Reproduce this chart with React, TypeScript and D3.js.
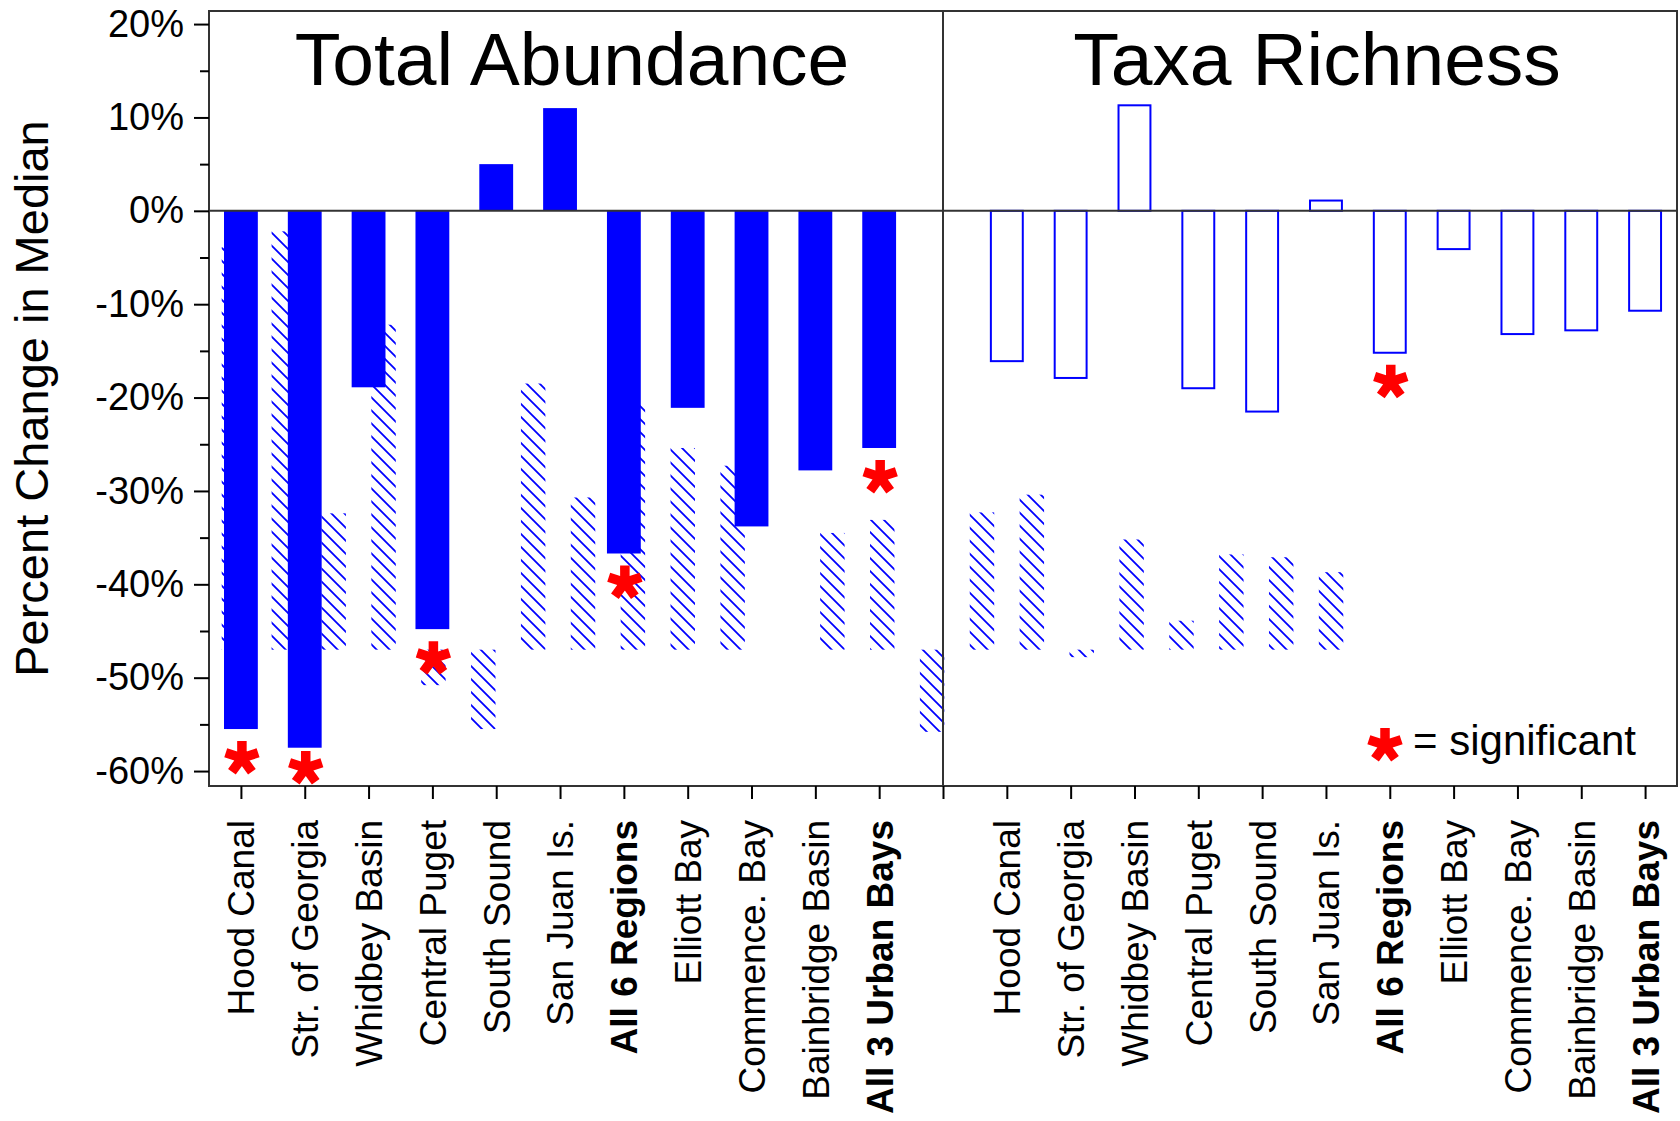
import { useRef, useEffect } from 'react'
import * as d3 from 'd3'

// categories (same list in both panels)
const regions = [
  'Hood Canal',
  'Str. of Georgia',
  'Whidbey Basin',
  'Central Puget',
  'South Sound',
  'San Juan Is.',
  'All 6 Regions',
  'Elliott Bay',
  'Commence. Bay',
  'Bainbridge Basin',
  'All 3 Urban Bays',
]
const boldLabels = ['All 6 Regions', 'All 3 Urban Bays']

// percent change in median
const abundance = [-55.5, -57.5, -18.9, -44.8, 5.0, 11.0, -36.7, -21.1, -33.8, -27.8, -25.4]
const richness = [-16.1, -17.9, 11.3, -19.0, -21.5, 1.1, -15.2, -4.1, -13.2, -12.8, -10.7]
const abundanceSig = [true, true, false, true, false, false, true, false, false, false, true]
const richnessSig = [false, false, false, false, false, false, true, false, false, false, false]

// hatched layer, one entry per slot (23 slots, slot 11 empty)
const hatchTop = [
  -3.9, -2.2, -32.4, -12.2, -47.0, -47.0, -18.5, -30.7, -20.8, -25.4, -27.3, null,
  -34.5, -33.1, -47.0, -32.3, -30.4, -47.0, -35.2, -43.9, -36.8, -37.1, -38.7,
]
const hatchBottom = [
  -47.0, -47.0, -47.0, -47.0, -50.8, -55.5, -47.0, -47.0, -47.0, -47.0, -47.0, null,
  -47.0, -47.0, -55.8, -47.0, -47.0, -47.8, -47.0, -47.0, -47.0, -47.0, -47.0,
]

const yTicks = [20, 10, 0, -10, -20, -30, -40, -50, -60]
const yMinorTicks = [15, 5, -5, -15, -25, -35, -45, -55]
const panelTitles = ['Total Abundance', 'Taxa Richness']

const FONT = '"Liberation Sans", Arial, Helvetica, sans-serif'
const BLUE = '#0000ff'
const RED = '#ff0000'

// five-armed asterisk marker
function starPath(len: number, w: number) {
  return d3
    .range(5)
    .map((k) => {
      const r = (k * 72 * Math.PI) / 180
      const dx = Math.sin(r)
      const dy = -Math.cos(r)
      const px = -dy * (w / 2)
      const py = dx * (w / 2)
      const pts = [
        [px, py],
        [px + dx * len, py + dy * len],
        [-px + dx * len, -py + dy * len],
        [-px, -py],
      ]
      return 'M' + pts.map((p) => p.join(',')).join('L') + 'Z'
    })
    .join('')
}

export default function App() {
  const svgRef = useRef<SVGSVGElement>(null)

  useEffect(() => {
    if (!svgRef.current) return
    const svg = d3.select(svgRef.current)
    svg.selectAll('*').remove()

    const width = 1680
    const height = 1121
    const left = 209
    const right = 1677
    const top = 11
    const bottom = 786

    svg.attr('width', width).attr('height', height).attr('font-family', FONT)

    const slots = d3.range(23)
    const slotLabels = [...regions, '', ...regions]

    const x = d3.scalePoint<number>().domain(slots).range([left, right]).padding(0.5)
    const xHatch = d3.scalePoint<number>().domain(slots).range([left, 1356]).padding(0.5)
    const y = d3.scaleLinear().domain([-61.6, 21.4]).range([bottom, top])

    // hatch pattern
    const s = 13
    const defs = svg.append('defs')
    defs
      .append('pattern')
      .attr('id', 'hatch')
      .attr('patternUnits', 'userSpaceOnUse')
      .attr('width', s)
      .attr('height', s)
      .append('path')
      .attr('d', `M0,0L${s},${s}M-2,${s - 2}L2,${s + 2}M${s - 2},-2L${s + 2},2`)
      .attr('stroke', BLUE)
      .attr('stroke-width', 1.8)

    const g = svg.append('g')

    // hatched bars
    const hw = xHatch.step() * 0.49
    g.selectAll('.hatch')
      .data(slots.filter((i) => hatchTop[i] !== null))
      .join('rect')
      .attr('class', 'hatch')
      .attr('x', (i) => (xHatch(i) as number) - hw / 2)
      .attr('y', (i) => y(hatchTop[i] as number))
      .attr('width', hw)
      .attr('height', (i) => y(hatchBottom[i] as number) - y(hatchTop[i] as number))
      .attr('fill', 'url(#hatch)')

    // Total Abundance: solid bars
    const bw = x.step() * 0.53
    g.selectAll('.solid')
      .data(abundance)
      .join('rect')
      .attr('class', 'solid')
      .attr('x', (_, i) => (x(i) as number) - bw / 2)
      .attr('y', (d) => y(Math.max(0, d)))
      .attr('width', bw)
      .attr('height', (d) => Math.abs(y(d) - y(0)))
      .attr('fill', BLUE)

    // Taxa Richness: outlined bars
    const ow = x.step() * 0.5
    g.selectAll('.outline')
      .data(richness)
      .join('rect')
      .attr('class', 'outline')
      .attr('x', (_, i) => (x(i + 12) as number) - ow / 2)
      .attr('y', (d) => y(Math.max(0, d)))
      .attr('width', ow)
      .attr('height', (d) => Math.abs(y(d) - y(0)))
      .attr('fill', 'none')
      .attr('stroke', BLUE)
      .attr('stroke-width', 2)

    // zero line, divider and frame
    g.append('line')
      .attr('x1', left)
      .attr('x2', right)
      .attr('y1', y(0))
      .attr('y2', y(0))
      .attr('stroke', '#333')
      .attr('stroke-width', 2)
    g.append('line')
      .attr('x1', x(11) as number)
      .attr('x2', x(11) as number)
      .attr('y1', top)
      .attr('y2', bottom)
      .attr('stroke', '#333')
      .attr('stroke-width', 2)
    g.append('rect')
      .attr('x', left)
      .attr('y', top)
      .attr('width', right - left)
      .attr('height', bottom - top)
      .attr('fill', 'none')
      .attr('stroke', '#333')
      .attr('stroke-width', 2)

    // significance stars
    const star = starPath(17, 9.5)
    const stars = [
      ...abundance.map((v, i) => ({ v, slot: i, sig: abundanceSig[i] })),
      ...richness.map((v, i) => ({ v, slot: i + 12, sig: richnessSig[i] })),
    ].filter((d) => d.sig)
    g.selectAll('.star')
      .data(stars)
      .join('path')
      .attr('class', 'star')
      .attr('d', star)
      .attr('fill', RED)
      .attr(
        'transform',
        (d) => `translate(${(x(d.slot) as number) + 1},${Math.min(y(d.v) + 29, bottom - 18)})`
      )

    // y axis: major + minor ticks
    const yAxis = g
      .append('g')
      .attr('transform', `translate(${left},0)`)
      .call(
        d3
          .axisLeft(y)
          .tickValues(yTicks)
          .tickSize(15)
          .tickPadding(10)
          .tickFormat((d) => `${d}%`)
      )
    yAxis.select('.domain').remove()
    yAxis.selectAll('line').attr('stroke', '#000').attr('stroke-width', 2)
    yAxis
      .selectAll('text')
      .attr('font-size', 38)
      .attr('font-family', FONT)
      .attr('fill', '#000')

    const yMinor = g
      .append('g')
      .attr('transform', `translate(${left},0)`)
      .call(d3.axisLeft(y).tickValues(yMinorTicks).tickSize(9).tickFormat(() => ''))
    yMinor.select('.domain').remove()
    yMinor.selectAll('line').attr('stroke', '#000').attr('stroke-width', 2)

    // x axis with rotated labels
    const xAxis = g
      .append('g')
      .attr('transform', `translate(0,${bottom})`)
      .call(
        d3
          .axisBottom(x)
          .tickSize(13)
          .tickFormat((i) => slotLabels[i as number])
      )
    xAxis.select('.domain').remove()
    xAxis.selectAll('line').attr('stroke', '#000').attr('stroke-width', 2)
    xAxis
      .selectAll<SVGTextElement, number>('text')
      .attr('transform', 'rotate(-90)')
      .attr('text-anchor', 'end')
      .attr('x', -34)
      .attr('y', 0)
      .attr('dy', '0.35em')
      .attr('font-size', 37)
      .attr('font-family', FONT)
      .attr('fill', '#000')
      .attr('font-weight', (i) => (boldLabels.includes(slotLabels[i]) ? 'bold' : 'normal'))

    // y axis title
    g.append('text')
      .attr('transform', `translate(48,${(top + bottom) / 2}) rotate(-90)`)
      .attr('text-anchor', 'middle')
      .attr('font-size', 47)
      .text('Percent Change in Median')

    // panel titles
    const titleX = [572, 1317]
    g.selectAll('.title')
      .data(panelTitles)
      .join('text')
      .attr('class', 'title')
      .attr('x', (_, i) => titleX[i])
      .attr('y', 85)
      .attr('text-anchor', 'middle')
      .attr('font-size', 75)
      .text((d) => d)

    // legend
    g.append('path').attr('d', star).attr('fill', RED).attr('transform', 'translate(1385,745)')
    g.append('text').attr('x', 1413).attr('y', 755).attr('font-size', 42).text('= significant')
  }, [])

  return (
    <div style={{ position: 'absolute', left: 0, top: 0 }}>
      <svg ref={svgRef} />
    </div>
  )
}
